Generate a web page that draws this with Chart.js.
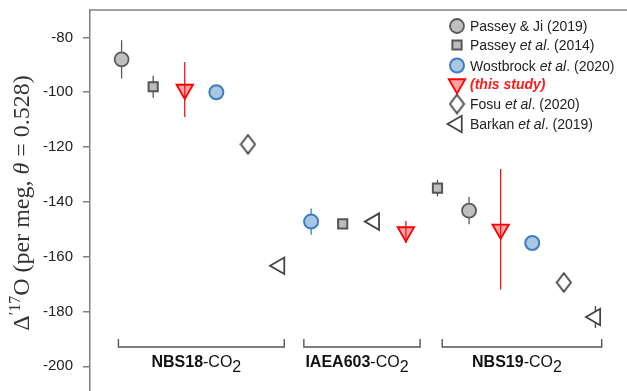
<!DOCTYPE html>
<html>
<head>
<meta charset="utf-8">
<script src="https://cdn.jsdelivr.net/npm/chart.js@4.4.1/dist/chart.umd.min.js"></script>
<style>
  html, body { margin: 0; padding: 0; background: #fff; }
</style>
</head>
<body>
<canvas id="chart" width="627" height="391"></canvas>
<script>
"use strict";

// y ticks and sample groups (x positions are slot numbers along the hidden x axis)
const Y_TICKS = [-80, -100, -120, -140, -160, -180, -200];
const GROUP_NAMES = ["NBS18", "IAEA603", "NBS19"];
const GROUP_SPANS = [[0.9, 6.15], [6.77, 10.45], [11.15, 16.2]];

// Δ'17O values (per meg) with error bars
const passeyJiX = [1, 12];
const passeyJiY = [-88, -143.2];
const passeyJiErr = [7, 5];

const passey2014X = [2, 8, 11];
const passey2014Y = [-98, -148, -135];
const passey2014Err = [4, 1, 3];

const wostbrockX = [4, 7, 14];
const wostbrockY = [-100, -147.2, -155];
const wostbrockErr = [1, 4.8, 1];

const thisStudyX = [3, 10, 13];
const thisStudyY = [-99, -151, -150];
const thisStudyErr = [10, 4, 22];

const fosuX = [5, 15];
const fosuY = [-119, -169.4];
const fosuErr = [1, 1];

const barkanX = [6, 9, 16];
const barkanY = [-163.3, -147.2, -182];
const barkanErr = [1, 1, 4];

// tall thin diamond (matplotlib 'd') as a little canvas
function thinDiamond() {
  const c = document.createElement("canvas");
  c.width = 17; c.height = 21;
  const g = c.getContext("2d");
  g.fillStyle = "#fff";
  g.strokeStyle = "#444";
  g.lineWidth = 1.8;
  g.beginPath();
  g.moveTo(8.5, 1.2); g.lineTo(15.6, 10.5); g.lineTo(8.5, 19.8); g.lineTo(1.4, 10.5);
  g.closePath(); g.fill(); g.stroke();
  return c;
}
const DIAMOND = thinDiamond();

const pts = (xs, ys) => xs.map((x, i) => ({ x, y: ys[i] }));

const SERIES = [
  { key: "pj",  label: [["Passey & Ji (2019)", ""]], data: pts(passeyJiX, passeyJiY), err: passeyJiErr,
    style: "circle", r: 7, rot: 0, fill: "#bfbfbf", stroke: "#5a5a5a", bw: 1.8, errColor: "#5a5a5a" },
  { key: "p14", label: [["Passey ", ""], ["et al", "italic "], [". (2014)", ""]], data: pts(passey2014X, passey2014Y), err: passey2014Err,
    style: "rect", r: 6.5, rot: 0, fill: "#bdbdbd", stroke: "#555", bw: 2, errColor: "#555" },
  { key: "w20", label: [["Wostbrock ", ""], ["et al", "italic "], [". (2020)", ""]], data: pts(wostbrockX, wostbrockY), err: wostbrockErr,
    style: "circle", r: 7, rot: 0, fill: "#a9c6e3", stroke: "#3a7ec3", bw: 2, errColor: "#3a7ec3" },
  { key: "ts",  label: [["(this study)", "italic bold "]], labelColor: "#ff1a1a", data: pts(thisStudyX, thisStudyY), err: thisStudyErr,
    style: "triangle", r: 9.5, rot: 180, fill: "rgba(240, 30, 30, 0.4)", stroke: "#ff0000", bw: 1.8, errColor: "#e8141a" },
  { key: "f20", label: [["Fosu ", ""], ["et al", "italic "], [". (2020)", ""]], data: pts(fosuX, fosuY), err: fosuErr,
    style: DIAMOND, r: 9, rot: 0, fill: "#fff", stroke: "#444", bw: 1.8, errColor: "#444" },
  { key: "b19", label: [["Barkan ", ""], ["et al", "italic "], [". (2019)", ""]], data: pts(barkanX, barkanY), err: barkanErr,
    style: "triangle", r: 9.5, rot: 270, fill: "#fff", stroke: "#444", bw: 1.8, errColor: "#444" },
];

// draw order: red triangles last so they sit on top
const DRAW_ORDER = ["pj", "p14", "w20", "f20", "b19", "ts"];

const AXIS_COLOR = "#808080";
const SANS = "'Liberation Sans', Arial, Helvetica, sans-serif";
const SERIF = "'Liberation Serif', 'Times New Roman', serif";

const errorBars = {
  id: "errorBars",
  beforeDatasetsDraw(chart) {
    const ctx = chart.ctx, ys = chart.scales.y;
    chart.data.datasets.forEach((ds, i) => {
      const meta = chart.getDatasetMeta(i);
      ctx.save();
      ctx.strokeStyle = ds.errColor;
      ctx.lineWidth = 1.3;
      meta.data.forEach((el, j) => {
        const v = ds.data[j].y, e = ds.err[j];
        ctx.beginPath();
        ctx.moveTo(el.x, ys.getPixelForValue(v + e));
        ctx.lineTo(el.x, ys.getPixelForValue(v - e));
        ctx.stroke();
      });
      ctx.restore();
    });
  },
};

function drawPieces(ctx, pieces, x, y, align) {
  // pieces: [text, font, dy]
  let total = 0;
  pieces.forEach(p => { ctx.font = p[1]; total += ctx.measureText(p[0]).width; });
  let cx = align === "center" ? x - total / 2 : x;
  pieces.forEach(p => {
    ctx.font = p[1];
    ctx.fillText(p[0], cx, y + (p[2] || 0));
    cx += ctx.measureText(p[0]).width;
  });
}

const decorations = {
  id: "decorations",
  afterDraw(chart) {
    const ctx = chart.ctx, area = chart.chartArea, xs = chart.scales.x;
    ctx.save();

    // top frame line
    ctx.strokeStyle = AXIS_COLOR;
    ctx.lineWidth = 1.5;
    ctx.beginPath();
    ctx.moveTo(area.left, area.top);
    ctx.lineTo(area.right, area.top);
    ctx.stroke();

    // group brackets + labels
    ctx.strokeStyle = "#555";
    ctx.lineWidth = 1.4;
    ctx.fillStyle = "#111";
    ctx.textBaseline = "alphabetic";
    GROUP_SPANS.forEach((span, i) => {
      const x0 = xs.getPixelForValue(span[0]), x1 = xs.getPixelForValue(span[1]);
      ctx.beginPath();
      ctx.moveTo(x0, 339); ctx.lineTo(x0, 347); ctx.lineTo(x1, 347); ctx.lineTo(x1, 339);
      ctx.stroke();
      drawPieces(ctx, [
        [GROUP_NAMES[i], "bold 16px " + SANS, 0],
        ["-CO", "16px " + SANS, 0],
        ["2", "16px " + SANS, 5],
      ], (x0 + x1) / 2 - 5, 367, "center");
    });

    // legend
    const rows = [26, 45, 65.5, 84, 104, 124];
    SERIES.forEach((s, i) => {
      const y = rows[i];
      ctx.fillStyle = s.fill;
      ctx.strokeStyle = s.stroke;
      ctx.lineWidth = s.bw;
      Chart.helpers.drawPoint(ctx, { pointStyle: s.style, radius: s.r, rotation: s.rot, borderWidth: s.bw }, 457, y);
      ctx.fillStyle = s.labelColor || "#222";
      drawPieces(ctx, s.label.map(p => [p[0], p[1] + "14px " + SANS, 0]), 470, y + 5, "left");
    });

    // y axis title, rotated, with the ′17 superscript
    ctx.translate(29, 203);
    ctx.rotate(-Math.PI / 2);
    ctx.fillStyle = "#333";
    drawPieces(ctx, [
      ["Δ", "24px " + SERIF, 0],
      ["′17", "16px " + SERIF, -9],
      ["O (per meg, ", "24px " + SERIF, 0],
      ["θ", "italic 24px " + SERIF, 0],
      [" = 0.528)", "24px " + SERIF, 0],
    ], 0, 0, "center");

    ctx.restore();
  },
};

const datasets = DRAW_ORDER.map(k => SERIES.find(s => s.key === k)).map(s => ({
  label: s.key,
  data: s.data,
  err: s.err,
  errColor: s.errColor,
  pointStyle: s.style,
  pointRadius: s.r,
  pointRotation: s.rot,
  pointBackgroundColor: s.fill,
  pointBorderColor: s.stroke,
  pointBorderWidth: s.bw,
  showLine: false,
  clip: false,
}));

new Chart(document.getElementById("chart"), {
  type: "scatter",
  data: { datasets },
  options: {
    responsive: false,
    animation: false,
    layout: { autoPadding: false, padding: { top: 10, left: 0, right: 0, bottom: 0 } },
    plugins: { legend: { display: false }, tooltip: { enabled: false } },
    scales: {
      x: { type: "linear", min: 0, max: 17, display: false },
      y: {
        min: -209,
        max: -70,
        afterBuildTicks: (s) => { s.ticks = Y_TICKS.map(v => ({ value: v })); },
        afterFit: (s) => { s.width = 90; s.paddingTop = 0; s.paddingBottom = 0; },
        grid: { drawOnChartArea: false, tickLength: 7, color: AXIS_COLOR, lineWidth: 1.5 },
        border: { color: AXIS_COLOR, width: 1.5 },
        ticks: {
          padding: 10,
          color: "#222",
          font: { family: SANS, size: 15 },
          callback: (v) => String(v),
        },
      },
    },
  },
  plugins: [errorBars, decorations],
});
</script>
</body>
</html>
